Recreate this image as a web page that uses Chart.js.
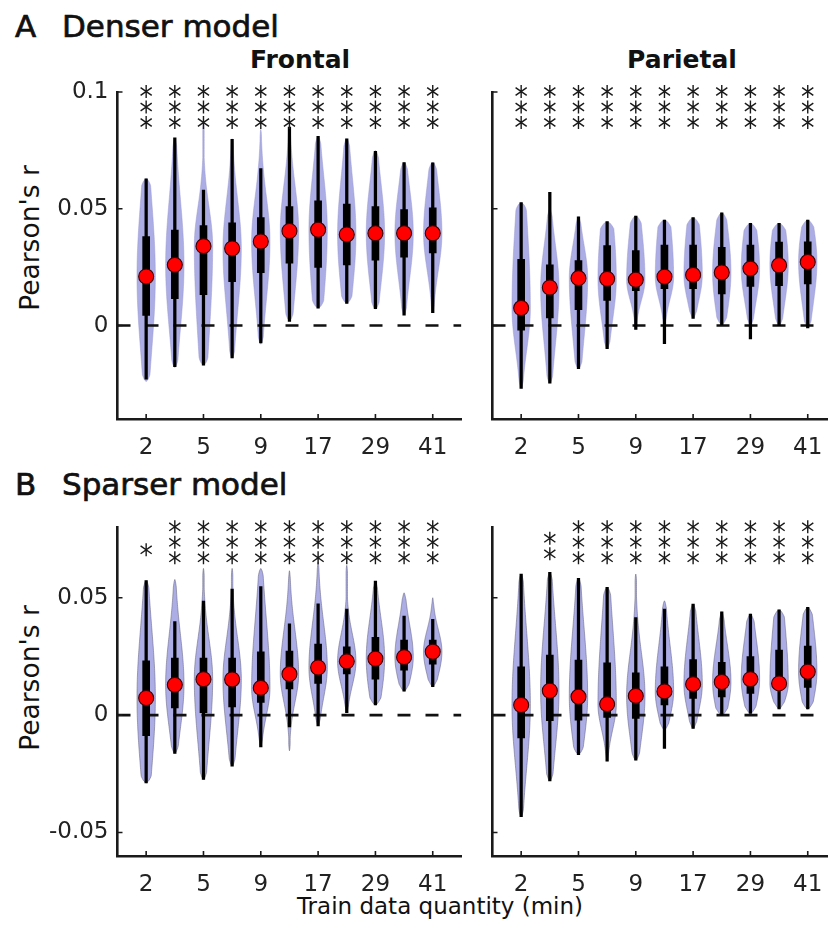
<!DOCTYPE html>
<html>
<head>
<meta charset="utf-8">
<script src="https://cdn.jsdelivr.net/npm/chart.js@4.4.1/dist/chart.umd.min.js"></script>
<style>
  body { margin: 0; background: #fff; }
  #fig { position: relative; width: 828px; height: 936px; overflow: hidden; font-family: "DejaVu Sans", sans-serif; color: #111; }
  #fig canvas { position: absolute; }
  .t { position: absolute; white-space: nowrap; line-height: 1; }
  .head { font-size: 31px; -webkit-text-stroke: 0.7px #111; }
</style>
</head>
<body>
<div id="fig">
  <div class="t head" style="left:15px; top:11px">A</div>
  <div class="t head" style="left:62px; top:11px">Denser model</div>
  <div class="t" style="left:300px; top:47px; font-size:25px; font-weight:bold; transform:translateX(-50%)">Frontal</div>
  <div class="t" style="left:682px; top:47px; font-size:25px; font-weight:bold; transform:translateX(-50%)">Parietal</div>
  <div class="t head" style="left:15px; top:469px">B</div>
  <div class="t head" style="left:62px; top:469px">Sparser model</div>
  <div class="t" style="left:30px; top:238px; font-size:26.5px; transform:translate(-50%,-50%) rotate(-90deg)">Pearson's r</div>
  <div class="t" style="left:30px; top:678px; font-size:26.5px; transform:translate(-50%,-50%) rotate(-90deg)">Pearson's r</div>
  <div class="t" style="left:440px; top:906px; font-size:23px; transform:translate(-50%,-50%)">Train data quantity (min)</div>

  <canvas id="denseFrontal"></canvas>
  <canvas id="denseParietal"></canvas>
  <canvas id="sparseFrontal"></canvas>
  <canvas id="sparseParietal"></canvas>
</div>

<script>
// x positions of the violins and their tick labels (only every other one is labelled)
const positions = [1, 2, 3, 4, 5, 6, 7, 8, 9, 10, 11]
const quantityLabels = ['2', '', '5', '', '9', '', '17', '', '29', '', '41']

const yTicksDense = [0, 0.05, 0.1]
const yTicksSparse = [-0.05, 0, 0.05]

// A - denser model, frontal
const denseFrontalMedian = [0.021, 0.026, 0.034, 0.033, 0.036, 0.0405, 0.041, 0.039, 0.0395, 0.0395, 0.0395]
const denseFrontalQ1 = [0.0043, 0.0115, 0.0132, 0.0188, 0.0227, 0.0267, 0.0249, 0.026, 0.028, 0.0293, 0.0311]
const denseFrontalQ3 = [0.0381, 0.0409, 0.0428, 0.044, 0.0462, 0.0509, 0.0534, 0.052, 0.0509, 0.0497, 0.0504]
const denseFrontalWhiskLo = [-0.023, -0.0176, -0.017, -0.0139, -0.0074, 0.0018, 0.0075, 0.0095, 0.0072, 0.0045, 0.0055]
const denseFrontalWhiskHi = [0.0628, 0.0804, 0.058, 0.0797, 0.0672, 0.085, 0.081, 0.08, 0.0746, 0.0698, 0.0697]
const denseFrontalViolinLo = [-0.024, -0.018, -0.017, -0.014, -0.008, 0.002, 0.0075, 0.0095, 0.007, 0.0045, 0.0055]
const denseFrontalViolinHi = [0.063, 0.08, 0.087, 0.08, 0.084, 0.085, 0.081, 0.08, 0.075, 0.07, 0.07]
const denseFrontalStars = [3, 3, 3, 3, 3, 3, 3, 3, 3, 3, 3]

// A - denser model, parietal
const denseParietalMedian = [0.0075, 0.0163, 0.0203, 0.02, 0.0196, 0.0209, 0.0217, 0.0227, 0.0244, 0.0258, 0.0272]
const denseParietalQ1 = [-0.002, 0.0033, 0.0068, 0.0108, 0.0149, 0.0158, 0.0158, 0.0136, 0.0168, 0.0171, 0.0178]
const denseParietalQ3 = [0.0284, 0.026, 0.0278, 0.0342, 0.0321, 0.0345, 0.0345, 0.0335, 0.0345, 0.0357, 0.0359]
const denseParietalWhiskLo = [-0.0269, -0.0247, -0.0185, -0.0099, -0.0017, -0.0078, 0.0031, 0.0004, -0.0057, 0.0, -0.001]
const denseParietalWhiskHi = [0.0527, 0.057, 0.0466, 0.0445, 0.0469, 0.0452, 0.0462, 0.0483, 0.0438, 0.0438, 0.0452]
const denseParietalViolinLo = [-0.0269, -0.0247, -0.0185, -0.0099, -0.0017, 0.0, 0.0031, 0.0004, 0.0, 0.0, -0.001]
const denseParietalViolinHi = [0.0527, 0.05, 0.0466, 0.0445, 0.0469, 0.0452, 0.0462, 0.0483, 0.0438, 0.0438, 0.0452]
const denseParietalStars = [3, 3, 3, 3, 3, 3, 3, 3, 3, 3, 3]

// B - sparser model, frontal
const sparseFrontalMedian = [0.0073, 0.0129, 0.0153, 0.0152, 0.0116, 0.0175, 0.0203, 0.0229, 0.024, 0.0247, 0.027]
const sparseFrontalQ1 = [-0.0087, 0.0031, 0.0011, 0.0035, 0.0054, 0.0112, 0.0135, 0.0175, 0.0153, 0.0192, 0.0217]
const sparseFrontalQ3 = [0.0231, 0.0243, 0.0243, 0.0243, 0.027, 0.0273, 0.0303, 0.0291, 0.0331, 0.032, 0.032]
const sparseFrontalWhiskLo = [-0.0289, -0.0163, -0.0274, -0.0217, -0.0135, -0.005, -0.0046, 0.001, 0.0044, 0.0102, 0.0121]
const sparseFrontalWhiskHi = [0.0573, 0.0398, 0.0486, 0.0537, 0.0547, 0.0389, 0.0474, 0.0452, 0.0571, 0.0422, 0.0408]
const sparseFrontalViolinLo = [-0.0289, -0.0163, -0.0274, -0.0217, -0.0135, -0.0152, -0.0046, 0.001, 0.0044, 0.0102, 0.0121]
const sparseFrontalViolinHi = [0.0573, 0.0578, 0.0625, 0.0625, 0.0625, 0.0615, 0.0653, 0.0638, 0.0571, 0.0521, 0.05]
const sparseFrontalStars = [1, 3, 3, 3, 3, 3, 3, 3, 3, 3, 3]

// B - sparser model, parietal
const sparseParietalMedian = [0.0043, 0.0104, 0.0078, 0.0047, 0.0082, 0.0101, 0.0132, 0.0141, 0.0153, 0.0135, 0.0185]
const sparseParietalQ1 = [-0.0097, -0.0024, -0.0021, -0.001, -0.0014, 0.0043, 0.0071, 0.0078, 0.0092, 0.011, 0.0118]
const sparseParietalQ3 = [0.0206, 0.0256, 0.0234, 0.0223, 0.018, 0.0206, 0.0237, 0.0225, 0.0249, 0.0277, 0.0294]
const sparseParietalWhiskLo = [-0.0433, -0.028, -0.0168, -0.0196, -0.0192, -0.0142, -0.0057, 0.0, 0.0007, 0.0026, 0.0026]
const sparseParietalWhiskHi = [0.0601, 0.0608, 0.0583, 0.0544, 0.0416, 0.0452, 0.0473, 0.044, 0.043, 0.0448, 0.0459]
const sparseParietalViolinLo = [-0.0433, -0.028, -0.0168, -0.0196, -0.0192, -0.0064, -0.0057, 0.0, 0.0007, 0.0026, 0.0026]
const sparseParietalViolinHi = [0.0601, 0.0608, 0.0583, 0.0544, 0.0601, 0.0487, 0.0473, 0.044, 0.043, 0.0448, 0.0459]
const sparseParietalStars = [0, 2, 3, 3, 3, 3, 3, 3, 3, 3, 3]

const AXIS = '#1a1a1a'
const VIOLIN_FILL = '#adade6'
const HALF_WIDTH = 0.32 // violin half width, in x units

const panels = [
  { id: 'denseFrontal', left: 0, top: 60, width: 470, area: { left: 117.5, right: 463, top: 92, bottom: 419 },
    yMin: -0.04, yMax: 0.1, yTicks: yTicksDense, yLabels: true, edge: 'rgba(150,150,205,0.6)',
    median: denseFrontalMedian, q1: denseFrontalQ1, q3: denseFrontalQ3,
    whiskLo: denseFrontalWhiskLo, whiskHi: denseFrontalWhiskHi,
    violinLo: denseFrontalViolinLo, violinHi: denseFrontalViolinHi, stars: denseFrontalStars },
  { id: 'denseParietal', left: 480, top: 60, width: 365, area: { left: 492.5, right: 838, top: 92, bottom: 419 },
    yMin: -0.04, yMax: 0.1, yTicks: yTicksDense, yLabels: false, edge: 'rgba(150,150,205,0.6)',
    median: denseParietalMedian, q1: denseParietalQ1, q3: denseParietalQ3,
    whiskLo: denseParietalWhiskLo, whiskHi: denseParietalWhiskHi,
    violinLo: denseParietalViolinLo, violinHi: denseParietalViolinHi, stars: denseParietalStars },
  { id: 'sparseFrontal', left: 0, top: 495, width: 470, area: { left: 117.5, right: 463, top: 527.3, bottom: 855.8 },
    yMin: -0.06, yMax: 0.08, yTicks: yTicksSparse, yLabels: true, edge: 'rgba(100,100,130,0.7)',
    median: sparseFrontalMedian, q1: sparseFrontalQ1, q3: sparseFrontalQ3,
    whiskLo: sparseFrontalWhiskLo, whiskHi: sparseFrontalWhiskHi,
    violinLo: sparseFrontalViolinLo, violinHi: sparseFrontalViolinHi, stars: sparseFrontalStars },
  { id: 'sparseParietal', left: 480, top: 495, width: 365, area: { left: 492.5, right: 838, top: 527.3, bottom: 855.8 },
    yMin: -0.06, yMax: 0.08, yTicks: yTicksSparse, yLabels: false, edge: 'rgba(100,100,130,0.7)',
    median: sparseParietalMedian, q1: sparseParietalQ1, q3: sparseParietalQ3,
    whiskLo: sparseParietalWhiskLo, whiskHi: sparseParietalWhiskHi,
    violinLo: sparseParietalViolinLo, violinHi: sparseParietalViolinHi, stars: sparseParietalStars },
]

const X_AXIS_HEIGHT = 44

// violin outlines, drawn under the whiskers / boxes
const violinPlugin = p => ({
  id: 'violins',
  beforeDatasetsDraw(chart) {
    const { ctx, scales: { x, y } } = chart
    const unit = x.getPixelForValue(1) - x.getPixelForValue(0)
    ctx.save()
    positions.forEach((pos, i) => {
      const cx = x.getPixelForValue(pos)
      const lo = p.violinLo[i], hi = p.violinHi[i], med = p.median[i]
      const sLo = Math.max(med - p.q1[i], 0.004) * 1.9
      const sHi = Math.max(p.q3[i] - med, 0.004) * 1.9
      const n = 90
      const right = [], left = []
      for (let k = 0; k <= n; k++) {
        const v = lo + (hi - lo) * k / n
        const s = v < med ? sLo : sHi
        let w = HALF_WIDTH * unit * Math.exp(-0.5 * ((v - med) / s) ** 2)
        const end = Math.min(1, (v - lo) / 0.003, (hi - v) / 0.003)
        w = Math.max(w, 0.7) * Math.sqrt(Math.max(end, 0))
        const py = y.getPixelForValue(v)
        right.push([cx + w, py])
        left.push([cx - w, py])
      }
      ctx.beginPath()
      right.forEach(([px, py], k) => (k ? ctx.lineTo(px, py) : ctx.moveTo(px, py)))
      left.reverse().forEach(([px, py]) => ctx.lineTo(px, py))
      ctx.closePath()
      ctx.fillStyle = VIOLIN_FILL
      ctx.fill()
      ctx.lineWidth = 0.8
      ctx.strokeStyle = p.edge
      ctx.stroke()
    })
    ctx.restore()
  },
})

// significance asterisks and the inward tick marks
const markPlugin = p => ({
  id: 'marks',
  afterDatasetsDraw(chart) {
    const { ctx, chartArea, scales: { x, y } } = chart
    ctx.save()
    ctx.strokeStyle = AXIS
    ctx.lineWidth = 1.4
    positions.forEach((pos, i) => {
      const n = p.stars[i]
      const cx = x.getPixelForValue(pos)
      for (let k = 0; k < n; k++) {
        const cy = chartArea.top - 0.5 + (3 - n) * 11.5 + k * 15.5
        ctx.beginPath()
        ctx.moveTo(cx, cy - 6.5)
        ctx.lineTo(cx, cy + 6.5)
        ;[35, -35].forEach(a => {
          const r = 6.8, c = Math.cos(a * Math.PI / 180) * r, s = Math.sin(a * Math.PI / 180) * r
          ctx.moveTo(cx - c, cy + s)
          ctx.lineTo(cx + c, cy - s)
        })
        ctx.stroke()
      }
    })
    ctx.lineWidth = 1.6
    ctx.beginPath()
    p.yTicks.forEach(v => {
      const py = y.getPixelForValue(v)
      ctx.moveTo(chartArea.left, py)
      ctx.lineTo(chartArea.left + 5, py)
    })
    positions.forEach((pos, i) => {
      if (!quantityLabels[i]) return
      const px = x.getPixelForValue(pos)
      ctx.moveTo(px, chartArea.bottom)
      ctx.lineTo(px, chartArea.bottom - 5)
    })
    ctx.stroke()
    ctx.restore()
  },
})

panels.forEach(p => {
  const el = document.getElementById(p.id)
  const height = Math.round(p.area.bottom + X_AXIS_HEIGHT - p.top)
  el.width = p.width
  el.height = height
  el.style.left = p.left + 'px'
  el.style.top = p.top + 'px'

  new Chart(el, {
    type: 'scatter',
    data: {
      datasets: [
        {
          type: 'line',
          data: [{ x: 0, y: 0 }, { x: 12, y: 0 }],
          showLine: true,
          borderColor: '#111',
          borderWidth: 2.6,
          borderDash: [13, 15],
          pointRadius: 0,
          order: 4,
        },
        {
          type: 'bar',
          data: positions.map((pos, i) => ({ x: pos, y: [p.whiskLo[i], p.whiskHi[i]] })),
          backgroundColor: '#000',
          barThickness: 2.6,
          grouped: false,
          borderSkipped: false,
          order: 3,
        },
        {
          type: 'bar',
          data: positions.map((pos, i) => ({ x: pos, y: [p.q1[i], p.q3[i]] })),
          backgroundColor: '#000',
          barThickness: 7,
          grouped: false,
          borderSkipped: false,
          order: 2,
        },
        {
          type: 'scatter',
          data: positions.map((pos, i) => ({ x: pos, y: p.median[i] })),
          pointRadius: 7.5,
          pointBackgroundColor: '#ff0000',
          pointBorderColor: '#3a0000',
          pointBorderWidth: 1.1,
          order: 1,
        },
      ],
    },
    options: {
      responsive: false,
      animation: false,
      events: [],
      devicePixelRatio: 1,
      layout: {
        padding: {
          left: p.yLabels ? 0 : p.area.left - p.left,
          top: p.area.top - p.top,
          right: p.left + p.width - p.area.right,
          bottom: 0,
        },
      },
      plugins: { legend: { display: false }, tooltip: { enabled: false } },
      scales: {
        x: {
          type: 'linear',
          min: 0,
          max: 12,
          offset: false,
          grid: { display: false, drawTicks: false, offset: false },
          border: { display: true, color: AXIS, width: 2.6 },
          afterFit: s => {
            s.height = X_AXIS_HEIGHT
            s.paddingLeft = 0
            s.paddingRight = 0
          },
          afterBuildTicks: s => { s.ticks = positions.filter((_, i) => quantityLabels[i]).map(v => ({ value: v })) },
          ticks: {
            autoSkip: false,
            maxRotation: 0,
            padding: 15,
            color: '#222',
            font: { family: 'DejaVu Sans', size: 23 },
            callback: v => quantityLabels[v - 1],
          },
        },
        y: {
          type: 'linear',
          min: p.yMin,
          max: p.yMax,
          grid: { display: false, drawTicks: false },
          border: { display: true, color: AXIS, width: 2.6 },
          afterFit: s => {
            s.width = p.yLabels ? p.area.left - p.left : 0
            s.paddingTop = 0
            s.paddingBottom = 0
          },
          afterBuildTicks: s => { s.ticks = p.yTicks.map(v => ({ value: v })) },
          ticks: {
            display: p.yLabels,
            padding: 9,
            color: '#222',
            font: { family: 'DejaVu Sans', size: 23 },
            callback: v => String(v),
          },
        },
      },
    },
    plugins: [violinPlugin(p), markPlugin(p)],
  })
})
</script>
</body>
</html>
